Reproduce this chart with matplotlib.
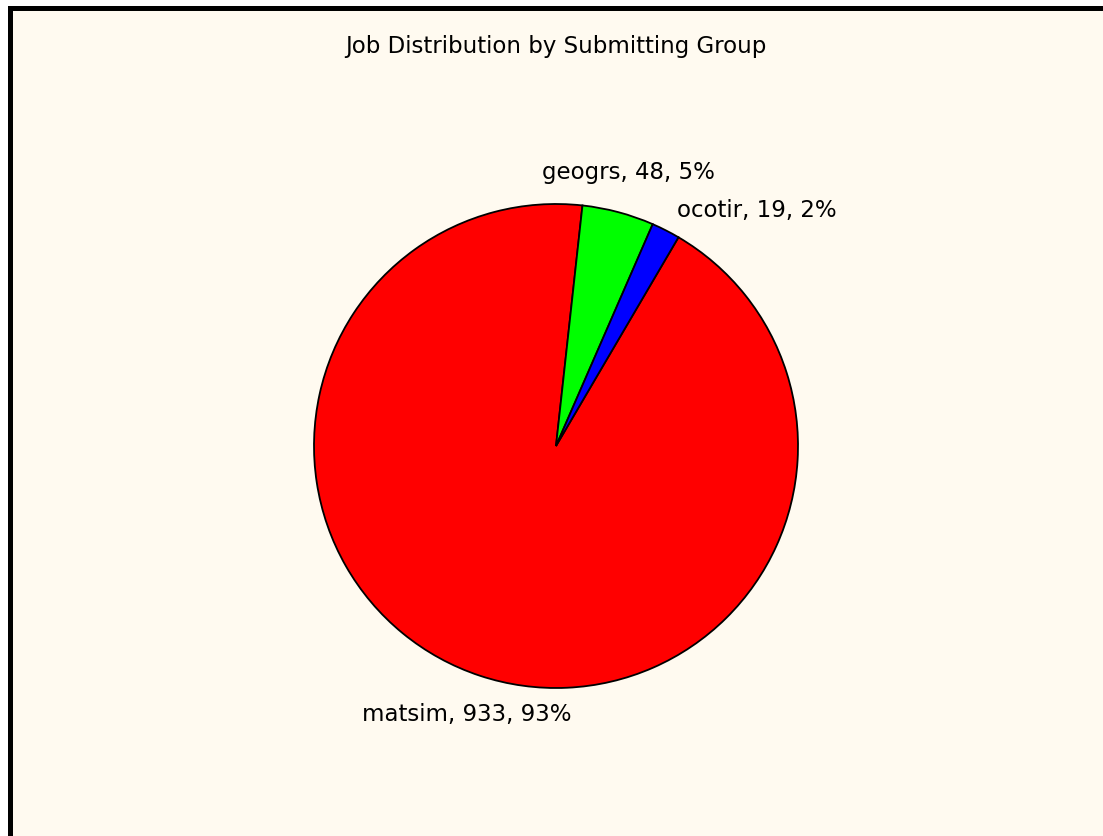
import matplotlib
matplotlib.use("Agg")
from matplotlib import pyplot as plt
from matplotlib.patches import Rectangle
import numpy as np

groups = ["matsim", "geogrs", "ocotir"]
jobs = [933, 48, 19]
colors = ["#ff0000", "#00ff00", "#0000ff"]

W, H = 1103, 836
fig = plt.figure(figsize=(W / 100, H / 100), dpi=100)
fig.patch.set_facecolor("white")

# black frame with cream panel, frame only shows on top and left
fig.patches.append(Rectangle((8 / W, 0), 1, (H - 6) / H, transform=fig.transFigure,
                             facecolor="black", edgecolor="none", zorder=-2))
fig.patches.append(Rectangle((13 / W, 0), 1, (H - 11) / H, transform=fig.transFigure,
                             facecolor="#fffaf0", edgecolor="none", zorder=-1))

fig.text(556 / W, 1 - 47 / H, "Job Distribution by Submitting Group",
         ha="center", va="center", fontsize=16.5, family="DejaVu Sans", zorder=5)

cx, cy, r = 556, H - 446, 242
ax = fig.add_axes([(cx - r) / W, (cy - r) / H, 2 * r / W, 2 * r / H])
ax.set_zorder(2)
total = sum(jobs)
labels = ["%s, %d, %d%%" % (g, v, round(100.0 * v / total)) for g, v in zip(groups, jobs)]
wedges, texts = ax.pie(jobs, labels=labels, colors=colors, startangle=59.6,
                       counterclock=False, labeldistance=1.17,
                       wedgeprops=dict(edgecolor="black", linewidth=1.3),
                       textprops=dict(fontsize=16.5, family="DejaVu Sans"))
for t in texts:
    t.set_ha("center")
    t.set_va("center")
# push the small label out of the way of its neighbour
x, y = texts[2].get_position()
texts[2].set_position((x + 0.3, y - 0.07))
ax.set_xlim(-1, 1)
ax.set_ylim(-1, 1)
ax.set_aspect("auto")
ax.axis("off")

fig.savefig("out.png", dpi=100, facecolor=fig.get_facecolor())
